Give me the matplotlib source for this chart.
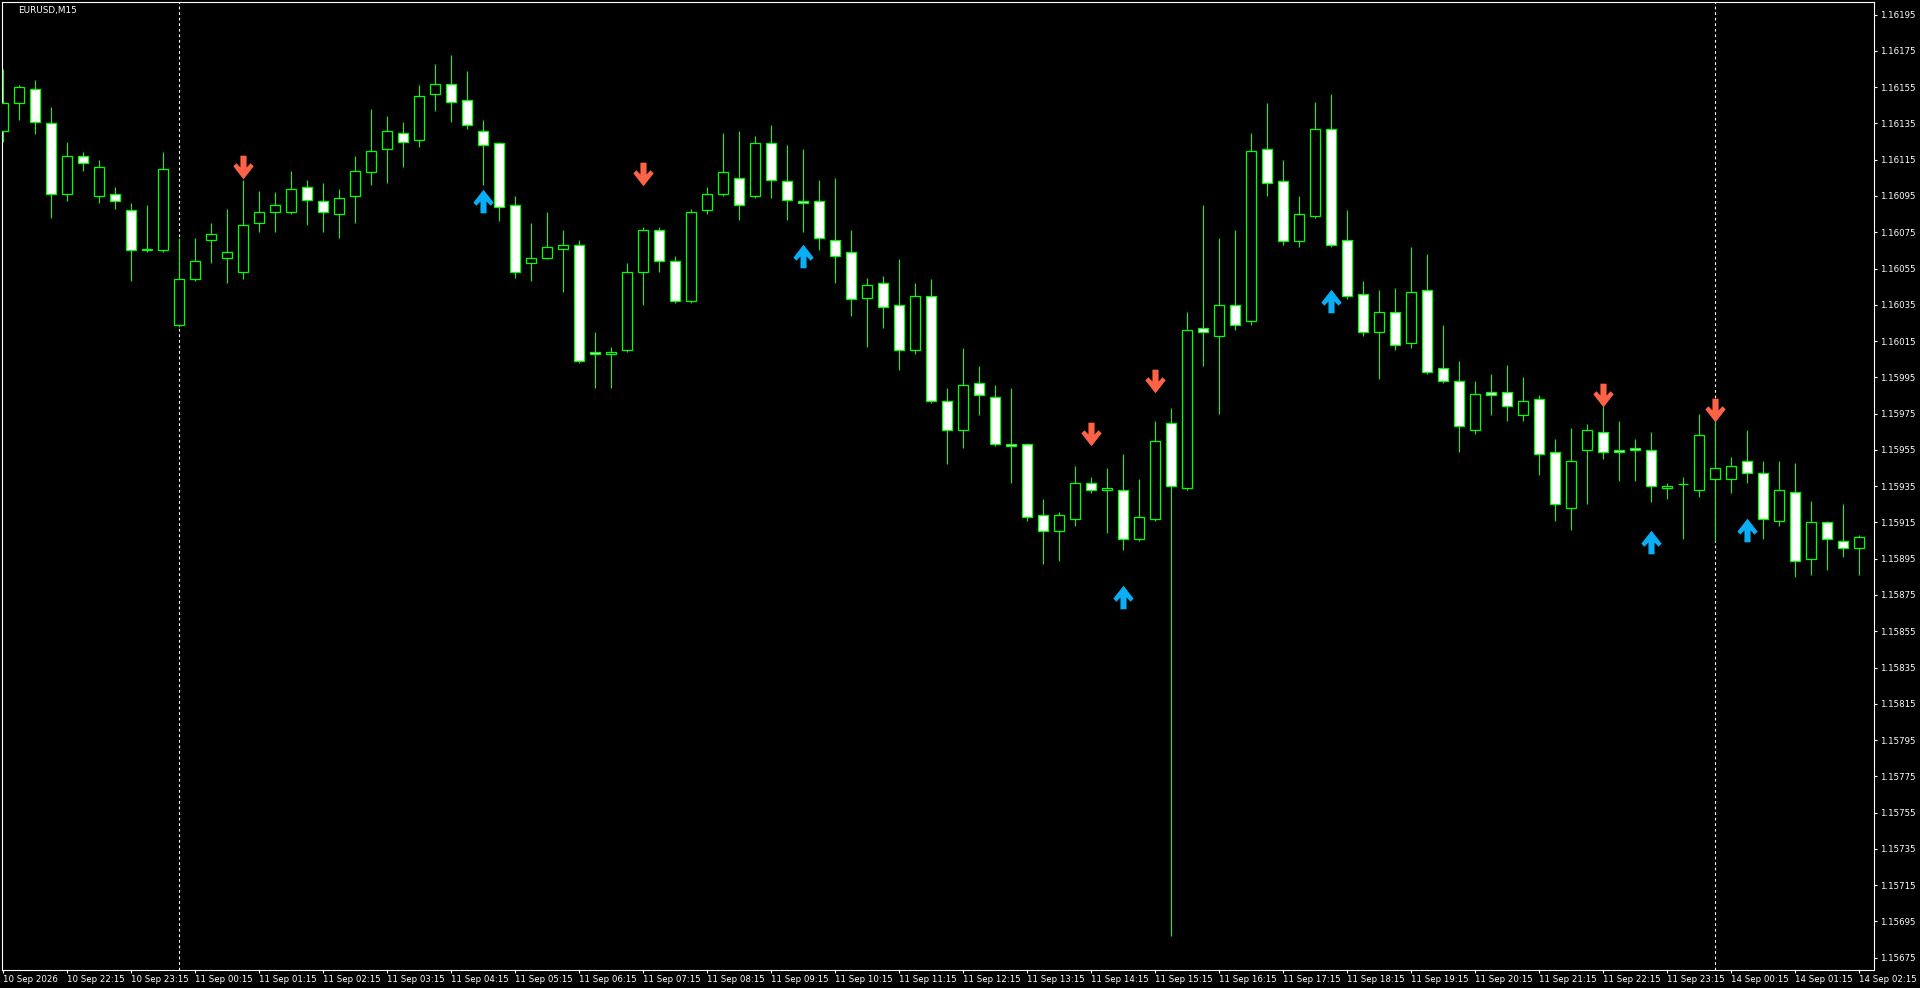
import numpy as np
import matplotlib
matplotlib.use('Agg')
import matplotlib.pyplot as plt
from matplotlib.path import Path

# EURUSD M15 bars (bar 0 = 10 Sep 21:15)
opens = [1.16131, 1.16146, 1.16154, 1.16135, 1.16096, 1.16117, 1.16095, 1.16096, 1.16087, 1.16065,
         1.16065, 1.16024, 1.16049, 1.16071, 1.16061, 1.16053, 1.16080, 1.16086, 1.16086, 1.16100,
         1.16092, 1.16085, 1.16095, 1.16108, 1.16121, 1.16130, 1.16126, 1.16151, 1.16157, 1.16148,
         1.16131, 1.16124, 1.16090, 1.16058, 1.16061, 1.16066, 1.16068, 1.16009, 1.16008, 1.16010,
         1.16053, 1.16076, 1.16059, 1.16037, 1.16087, 1.16096, 1.16105, 1.16095, 1.16124, 1.16103,
         1.16092, 1.16092, 1.16071, 1.16064, 1.16039, 1.16047, 1.16035, 1.16010, 1.16040, 1.15982,
         1.15966, 1.15992, 1.15984, 1.15958, 1.15958, 1.15919, 1.15910, 1.15917, 1.15937, 1.15933,
         1.15933, 1.15906, 1.15917, 1.15970, 1.15934, 1.16022, 1.16018, 1.16035, 1.16026, 1.16121,
         1.16103, 1.16070, 1.16084, 1.16132, 1.16071, 1.16041, 1.16020, 1.16031, 1.16014, 1.16043,
         1.16000, 1.15993, 1.15966, 1.15987, 1.15987, 1.15974, 1.15983, 1.15954, 1.15923, 1.15955,
         1.15965, 1.15955, 1.15956, 1.15955, 1.15934, 1.15936, 1.15933, 1.15939, 1.15939, 1.15949,
         1.15942, 1.15916, 1.15932, 1.15895, 1.15915, 1.15905, 1.15901]
highs = [1.16165, 1.16156, 1.16159, 1.16144, 1.16125, 1.16119, 1.16115, 1.16100, 1.16091, 1.16090,
         1.16119, 1.16072, 1.16072, 1.16080, 1.16088, 1.16104, 1.16098, 1.16097, 1.16109, 1.16104,
         1.16102, 1.16099, 1.16117, 1.16143, 1.16139, 1.16136, 1.16156, 1.16168, 1.16173, 1.16164,
         1.16137, 1.16125, 1.16095, 1.16080, 1.16086, 1.16076, 1.16071, 1.16020, 1.16012, 1.16058,
         1.16078, 1.16078, 1.16062, 1.16088, 1.16100, 1.16130, 1.16131, 1.16128, 1.16134, 1.16123,
         1.16121, 1.16104, 1.16105, 1.16076, 1.16050, 1.16051, 1.16060, 1.16047, 1.16049, 1.15989,
         1.16011, 1.16001, 1.15991, 1.15989, 1.15959, 1.15928, 1.15921, 1.15946, 1.15940, 1.15945,
         1.15953, 1.15939, 1.15971, 1.15978, 1.16031, 1.16090, 1.16072, 1.16076, 1.16130, 1.16146,
         1.16115, 1.16095, 1.16147, 1.16151, 1.16087, 1.16048, 1.16043, 1.16044, 1.16067, 1.16063,
         1.16024, 1.16004, 1.15993, 1.15997, 1.16002, 1.15995, 1.15985, 1.15961, 1.15967, 1.15969,
         1.15980, 1.15971, 1.15961, 1.15965, 1.15937, 1.15940, 1.15975, 1.15976, 1.15951, 1.15966,
         1.15949, 1.15949, 1.15948, 1.15927, 1.15916, 1.15925, 1.15908]
lows = [1.16125, 1.16137, 1.16129, 1.16083, 1.16092, 1.16109, 1.16091, 1.16088, 1.16048, 1.16064,
        1.16064, 1.16023, 1.16048, 1.16058, 1.16047, 1.16049, 1.16075, 1.16075, 1.16085, 1.16079,
        1.16075, 1.16072, 1.16080, 1.16101, 1.16102, 1.16111, 1.16122, 1.16142, 1.16136, 1.16132,
        1.16101, 1.16081, 1.16050, 1.16048, 1.16060, 1.16042, 1.16003, 1.15989, 1.15989, 1.16009,
        1.16035, 1.16053, 1.16036, 1.16036, 1.16085, 1.16095, 1.16082, 1.16094, 1.16094, 1.16082,
        1.16075, 1.16065, 1.16047, 1.16029, 1.16012, 1.16022, 1.15999, 1.16008, 1.15981, 1.15947,
        1.15956, 1.15974, 1.15957, 1.15937, 1.15916, 1.15892, 1.15894, 1.15913, 1.15931, 1.15909,
        1.15900, 1.15905, 1.15916, 1.15687, 1.15933, 1.16001, 1.15975, 1.16021, 1.16024, 1.16095,
        1.16068, 1.16067, 1.16083, 1.16067, 1.16038, 1.16018, 1.15994, 1.16010, 1.16011, 1.15997,
        1.15992, 1.15954, 1.15964, 1.15974, 1.15971, 1.15971, 1.15941, 1.15916, 1.15911, 1.15925,
        1.15950, 1.15938, 1.15938, 1.15926, 1.15928, 1.15906, 1.15929, 1.15905, 1.15931, 1.15937,
        1.15906, 1.15913, 1.15885, 1.15886, 1.15889, 1.15896, 1.15886]
closes = [1.16146, 1.16155, 1.16136, 1.16096, 1.16117, 1.16113, 1.16111, 1.16092, 1.16065, 1.16066,
          1.16110, 1.16049, 1.16059, 1.16074, 1.16064, 1.16079, 1.16086, 1.16090, 1.16099, 1.16093,
          1.16086, 1.16094, 1.16109, 1.16120, 1.16131, 1.16125, 1.16150, 1.16157, 1.16147, 1.16134,
          1.16123, 1.16089, 1.16053, 1.16061, 1.16067, 1.16068, 1.16004, 1.16008, 1.16009, 1.16053,
          1.16076, 1.16059, 1.16037, 1.16086, 1.16096, 1.16108, 1.16090, 1.16124, 1.16104, 1.16093,
          1.16091, 1.16072, 1.16062, 1.16038, 1.16046, 1.16034, 1.16010, 1.16040, 1.15982, 1.15966,
          1.15991, 1.15985, 1.15958, 1.15957, 1.15918, 1.15910, 1.15919, 1.15937, 1.15933, 1.15934,
          1.15906, 1.15918, 1.15960, 1.15935, 1.16021, 1.16020, 1.16035, 1.16024, 1.16120, 1.16102,
          1.16070, 1.16085, 1.16132, 1.16068, 1.16040, 1.16020, 1.16031, 1.16013, 1.16042, 1.15998,
          1.15993, 1.15968, 1.15986, 1.15985, 1.15979, 1.15982, 1.15953, 1.15925, 1.15949, 1.15966,
          1.15954, 1.15954, 1.15955, 1.15935, 1.15935, 1.15936, 1.15963, 1.15945, 1.15946, 1.15942,
          1.15917, 1.15933, 1.15894, 1.15915, 1.15906, 1.15901, 1.15907]

# indicator arrows (bar index, price)
sell_bars = [15, 40, 68, 72, 100, 107]
sell_prices = [1.16111, 1.16107, 1.15964, 1.15993, 1.15985, 1.15977]
buy_bars = [30, 50, 70, 83, 103, 109]
buy_prices = [1.16092, 1.16062, 1.15874, 1.16037, 1.15904, 1.15911]

# day separators (bars at 00:00)
day_bars = [11, 107]

price_ticks = [1.16195, 1.16175, 1.16155, 1.16135, 1.16115, 1.16095, 1.16075, 1.16055, 1.16035,
               1.16015, 1.15995, 1.15975, 1.15955, 1.15935, 1.15915, 1.15895, 1.15875, 1.15855,
               1.15835, 1.15815, 1.15795, 1.15775, 1.15755, 1.15735, 1.15715, 1.15695, 1.15675]
time_labels = ['10 Sep 2026', '10 Sep 22:15', '10 Sep 23:15',
               '11 Sep 00:15', '11 Sep 01:15', '11 Sep 02:15', '11 Sep 03:15', '11 Sep 04:15',
               '11 Sep 05:15', '11 Sep 06:15', '11 Sep 07:15', '11 Sep 08:15', '11 Sep 09:15',
               '11 Sep 10:15', '11 Sep 11:15', '11 Sep 12:15', '11 Sep 13:15', '11 Sep 14:15',
               '11 Sep 15:15', '11 Sep 16:15', '11 Sep 17:15', '11 Sep 18:15', '11 Sep 19:15',
               '11 Sep 20:15', '11 Sep 21:15', '11 Sep 22:15', '11 Sep 23:15',
               '14 Sep 00:15', '14 Sep 01:15', '14 Sep 02:15']
time_bars = [0, 4, 8, 12, 16, 20, 24, 28, 32, 36, 40, 44, 48, 52, 56, 60, 64, 68, 72, 76,
             80, 84, 88, 92, 96, 100, 104, 108, 112, 116]

W, H = 1920, 988
fig = plt.figure(figsize=(W / 100, H / 100), dpi=100, facecolor='black')
ax = fig.add_axes([2.3 / W, 1 - 970 / H, (1874 - 2.3) / W, (970 - 2.3) / H])
ax.set_facecolor('black')

x = np.arange(len(opens))
o = np.array(opens)
c = np.array(closes)
green = '#00FF00'

# wicks, then bodies on top
ax.vlines(x, lows, highs, color=green, lw=0.8, zorder=2)
bull = c >= o
body_bottom = np.minimum(o, c)
body_height = np.abs(c - o)
ax.bar(x, body_height, bottom=body_bottom, width=0.62,
       color=np.where(bull, 'black', 'white'), edgecolor=green, linewidth=0.9, zorder=3)

# arrow markers (thick shaft + chevron head)
down = Path([(-0.13, 0.5), (0.13, 0.5), (0.13, 0.0), (0.3, 0.18), (0.43, 0.05), (0, -0.5),
             (-0.43, 0.05), (-0.3, 0.18), (-0.13, 0.0), (-0.13, 0.5)], closed=True)
up = Path([(vx, -vy) for vx, vy in down.vertices], closed=True)
ax.scatter(sell_bars, sell_prices, marker=down, s=17 ** 2, color='#FF6347', linewidths=0, zorder=4)
ax.scatter(buy_bars, buy_prices, marker=up, s=17 ** 2, color='#0AAEF5', linewidths=0, zorder=4)

for d in day_bars:
    ax.axvline(d, color='white', lw=0.8, ls=(0, (2.5, 2.5)), zorder=1)

ax.set_xlim(-0.06, 116.92)
ax.set_ylim(1.156682, 1.162018)

for s in ax.spines.values():
    s.set_color('white')
    s.set_linewidth(0.8)

ax.yaxis.tick_right()
ax.set_yticks(price_ticks)
ax.set_yticklabels([f'{v:.5f}' for v in price_ticks])
ax.tick_params(axis='y', colors='white', labelsize=6.2, length=2.5, width=0.8, pad=2)

ax.set_xticks(time_bars)
ax.set_xticklabels(time_labels, ha='left')
ax.tick_params(axis='x', colors='white', labelsize=6.2, length=2.5, width=0.8, pad=0.8)

fig.text(18 / W, 1 - 10.5 / H, 'EURUSD,M15', color='white', fontsize=6.4, va='center', ha='left')

fig.savefig('out.png', dpi=100, facecolor='black')
